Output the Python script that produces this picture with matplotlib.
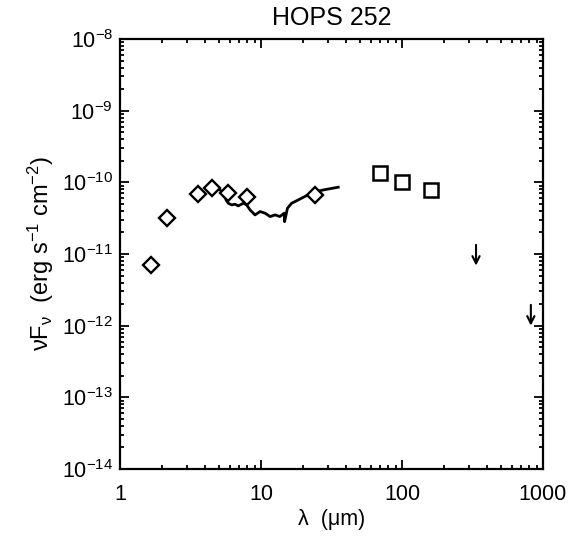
import matplotlib
matplotlib.use("Agg")
import matplotlib.pyplot as plt
from matplotlib.patches import FancyArrowPatch
from matplotlib.ticker import FixedLocator, LogFormatterMathtext, NullFormatter
import numpy as np

# Photometry (diamonds)
phot_wave = [1.66, 2.17, 3.6, 4.5, 5.8, 8.0, 24.0]
phot_flux = [7.0e-12, 3.2e-11, 6.8e-11, 8.4e-11, 7.2e-11, 6.25e-11, 6.6e-11]

# Far-IR photometry (squares)
fir_wave = [70.0, 100.0, 160.0]
fir_flux = [1.33e-10, 1.01e-10, 7.8e-11]

# Upper limits (arrows)
ul_wave = [335.0, 820.0]
ul_flux = [1.34e-11, 1.95e-12]

# IRS spectrum
spec_wave = [5.06, 5.40, 5.65, 5.86, 6.20, 6.54, 6.90, 7.49, 7.92, 8.36, 9.07, 9.84,
             10.7, 11.6, 12.6, 13.6, 14.6, 14.7, 15.4, 16.5, 18.4, 21.1, 23.5, 27.7, 35.3]
spec_flux = [8.0e-11, 7.05e-11, 5.69e-11, 5.11e-11, 4.84e-11, 4.95e-11, 4.69e-11, 5.11e-11,
             4.84e-11, 4.12e-11, 3.51e-11, 3.91e-11, 3.71e-11, 3.33e-11, 3.51e-11, 3.33e-11,
             3.71e-11, 2.83e-11, 4.35e-11, 5.11e-11, 5.69e-11, 6.53e-11, 7.28e-11, 7.83e-11, 8.55e-11]

x_major = [1, 10, 100, 1000]
y_exponents = [-14, -13, -12, -11, -10, -9, -8]

title = "HOPS 252"
xlabel = "λ  (μm)"
ylabel = r"νF$_\mathrm{ν}$  (erg s$^\mathrm{-1}$ cm$^\mathrm{-2}$)"

plt.rcParams['font.family'] = ['Liberation Sans', 'DejaVu Sans']
plt.rcParams['mathtext.fontset'] = 'custom'
plt.rcParams['mathtext.rm'] = 'Liberation Sans'
plt.rcParams['mathtext.it'] = 'Liberation Sans'
plt.rcParams['mathtext.bf'] = 'Liberation Sans'

fig = plt.figure(figsize=(5.8, 5.5), dpi=100)
ax = fig.add_axes([0.2069, 0.1473, 0.7293, 0.7818])

ax.plot(spec_wave, spec_flux, color='black', lw=2.0, zorder=2)
ax.plot(phot_wave, phot_flux, linestyle='none', marker='D', ms=8, mfc='white',
        mec='black', mew=1.7, zorder=3)
ax.plot(fir_wave, fir_flux, linestyle='none', marker='s', ms=10, mfc='white',
        mec='black', mew=1.8, zorder=3)
for w, f in zip(ul_wave, ul_flux):
    arr = FancyArrowPatch((w, f), (w, f * 10 ** -0.29), arrowstyle='->',
                          color='black', lw=1.5, mutation_scale=13,
                          shrinkA=0, shrinkB=0)
    ax.add_patch(arr)

ax.set_xscale('log')
ax.set_yscale('log')
ax.set_xlim(x_major[0], x_major[-1])
ax.set_ylim(10.0 ** y_exponents[0], 10.0 ** y_exponents[-1])

y_major = [10.0 ** e for e in y_exponents]
x_minor = [m * d for d in x_major[:-1] for m in range(2, 10)]
y_minor = [m * d for d in y_major[:-1] for m in range(2, 10)]

ax.xaxis.set_major_locator(FixedLocator(x_major))
ax.xaxis.set_minor_locator(FixedLocator(x_minor))
ax.yaxis.set_major_locator(FixedLocator(y_major))
ax.yaxis.set_minor_locator(FixedLocator(y_minor))
ax.xaxis.set_major_formatter(plt.FuncFormatter(lambda v, p: f"{int(round(v))}"))
ax.yaxis.set_major_formatter(LogFormatterMathtext())
ax.xaxis.set_minor_formatter(NullFormatter())
ax.yaxis.set_minor_formatter(NullFormatter())

ax.tick_params(which='both', direction='in', top=True, right=True, width=1.3,
               labelsize=15.5)
ax.tick_params(which='major', length=6.5)
ax.tick_params(which='minor', length=3.2)
ax.tick_params(axis='x', which='major', pad=11)
ax.tick_params(axis='y', which='major', pad=5)
for s in ax.spines.values():
    s.set_linewidth(1.6)

ax.set_title(title, fontsize=18, pad=10)
ax.set_xlabel(xlabel, fontsize=15.5)
ax.set_ylabel(ylabel, fontsize=17)
ax.xaxis.set_label_coords(0.5, -0.093)
ax.yaxis.set_label_coords(-0.152, 0.5)

fig.savefig("out.png", dpi=100)
